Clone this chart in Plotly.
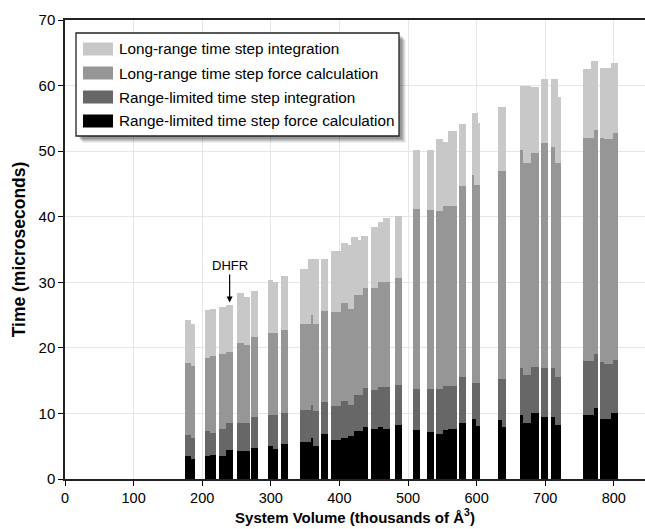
import plotly.graph_objects as go

# ---- data ----
volume = [179.6, 187.1, 207.7, 216.2, 230.1, 240.3, 256.3, 265.3, 275.8, 299.4,
          306.8, 319.5, 348.5, 356.0, 359.6, 365.6, 378.8, 394.8, 407.0, 414.8,
          419.6, 424.4, 429.3, 433.0, 437.8, 451.2, 459.7, 468.2, 486.2, 511.9,
          532.8, 545.9, 554.4, 564.9, 579.4, 594.5, 597.75, 600.6, 603.35, 634.0,
          640.1, 665.0, 673.5, 685.2, 699.5, 710.9, 716.2, 720.9, 760.9, 768.9,
          773.8, 782.8, 791.3, 797.4, 802.2]
bin_width = [8.8, 6.2, 8.6, 8.4, 9.8, 10.6, 10.7, 7.3, 10.7, 7.2,
             7.5, 10.7, 11.1, 4.0, 3.2, 8.8, 10.6, 13.6, 10.7, 4.9,
             4.8, 4.8, 5.0, 2.3, 7.3, 9.6, 7.3, 9.8, 9.7, 9.8,
             9.6, 9.6, 7.3, 13.7, 10.8, 3.0, 3.5, 2.2, 3.3, 6.0,
             6.2, 4.9, 12.2, 11.1, 10.6, 6.3, 4.4, 4.9, 12.2, 3.8,
             5.9, 7.2, 9.8, 2.3, 7.3]
rl_force = [3.5, 3.0, 3.5, 3.7, 3.5, 4.4, 4.2, 4.3, 4.8, 5.0,
            4.6, 5.3, 5.6, 5.6, 6.3, 5.0, 6.9, 5.9, 6.3, 6.5,
            6.5, 7.3, 7.3, 7.3, 8.0, 7.7, 8.0, 7.7, 8.3, 7.4,
            7.1, 6.8, 7.4, 7.6, 8.6, 9.1, 9.1, 8.1, 8.1, 9.0,
            7.9, 9.7, 8.5, 10.0, 9.4, 9.5, 8.3, 8.3, 9.7, 9.7,
            10.8, 9.2, 9.2, 10.0, 10.0]
rl_integ = [3.2, 3.3, 3.8, 3.3, 4.2, 4.1, 4.3, 4.2, 4.7, 4.8,
            5.2, 4.7, 4.9, 4.9, 5.0, 5.4, 4.9, 5.3, 5.6, 4.8,
            4.8, 5.5, 5.5, 5.5, 5.9, 5.8, 6.0, 6.3, 6.0, 6.4,
            6.6, 7.0, 6.8, 6.6, 6.9, 5.6, 5.6, 6.6, 6.6, 6.3,
            7.4, 7.2, 7.3, 7.1, 7.6, 7.4, 7.3, 7.3, 8.3, 8.3,
            8.2, 8.7, 8.4, 7.6, 8.1]
lr_force = [11.0, 11.0, 11.2, 11.7, 11.4, 10.8, 12.2, 11.9, 12.1, 12.5,
            12.5, 12.8, 13.2, 13.2, 13.7, 13.2, 13.8, 14.3, 15.0, 14.7,
            14.7, 15.2, 15.2, 15.2, 15.2, 15.6, 16.1, 16.1, 16.4, 27.4,
            27.3, 27.0, 27.4, 27.4, 29.2, 31.6, 30.1, 30.1, 30.1, 31.6,
            31.6, 33.3, 32.4, 32.6, 34.2, 33.8, 32.6, 32.6, 34.0, 34.0,
            34.2, 34.1, 34.2, 34.2, 34.6]
lr_integ = [6.6, 6.4, 7.2, 7.2, 7.2, 7.2, 7.6, 7.4, 7.1, 8.1,
            7.8, 8.1, 8.4, 9.9, 8.6, 9.9, 7.9, 9.2, 9.1, 9.7,
            10.9, 8.9, 8.4, 9.1, 8.0, 9.4, 9.1, 9.7, 9.4, 8.9,
            9.1, 11.1, 9.8, 11.5, 9.4, 9.5, 11.0, 11.0, 9.5, 9.9,
            9.9, 9.8, 11.7, 10.1, 9.8, 10.3, 12.8, 10.1, 10.5, 11.8,
            10.6, 10.7, 10.9, 11.7, 10.8]

series_names = ["Long-range time step integration",
                "Long-range time step force calculation",
                "Range-limited time step integration",
                "Range-limited time step force calculation"]
x_ticks = [0, 100, 200, 300, 400, 500, 600, 700, 800]
y_ticks = [0, 10, 20, 30, 40, 50, 60, 70]

# ---- styles ----
FONT = "Liberation Sans, Arial, Helvetica, sans-serif"
colors = {"lri": "#c8c8c8", "lrf": "#969696", "rli": "#676767", "rlf": "#000000"}

W, H = 645, 529
ML, MR, MT, MB = 65, 0, 20, 50
PW, PH = W - ML - MR, H - MT - MB
X_MAX = PW / 0.686


def px(xp):
    return (xp - ML) / PW


def py(yp):
    return (H - MB - yp) / PH


fig = go.Figure()
stack = [(rl_force, series_names[3], colors["rlf"]),
         (rl_integ, series_names[2], colors["rli"]),
         (lr_force, series_names[1], colors["lrf"]),
         (lr_integ, series_names[0], colors["lri"])]
for vals, name, col in stack:
    fig.add_trace(go.Bar(x=volume, y=vals, width=bin_width, name=name,
                         marker=dict(color=col, line=dict(width=0)),
                         showlegend=False))

# ---- manual legend with drop shadow ----
lx0, lx1, ly0, ly1 = 76, 399, 33, 136
shapes = []
for off, op in [(7, 0.06), (6, 0.08), (5, 0.10), (4, 0.12), (3, 0.12)]:
    shapes.append(dict(type="rect", xref="paper", yref="paper",
                       x0=px(lx0 + off), x1=px(lx1 + off),
                       y0=py(ly1 + off), y1=py(ly0 + off),
                       fillcolor=f"rgba(0,0,0,{op})", line=dict(width=0),
                       layer="above"))
shapes.append(dict(type="rect", xref="paper", yref="paper",
                   x0=px(lx0), x1=px(lx1), y0=py(ly1), y1=py(ly0),
                   fillcolor="white", line=dict(color="#222222", width=1.3),
                   layer="above"))
rows_y = [49, 73, 97, 121]
leg_cols = [colors["lri"], colors["lrf"], colors["rli"], colors["rlf"]]
annotations = []
for name, col, ry in zip(series_names, leg_cols, rows_y):
    shapes.append(dict(type="rect", xref="paper", yref="paper",
                       x0=px(83), x1=px(113), y0=py(ry + 6.5), y1=py(ry - 6.5),
                       fillcolor=col, line=dict(width=0), layer="above"))
    annotations.append(dict(xref="paper", yref="paper", x=px(117), y=py(ry),
                            text=name, showarrow=False, xanchor="left",
                            yanchor="middle",
                            font=dict(family=FONT, size=15.3, color="black")))

# DHFR callout
annotations.append(dict(x=240, y=26.9, xref="x", yref="y", text="DHFR",
                        showarrow=True, ax=0, ay=-37, arrowhead=2,
                        arrowsize=1, arrowwidth=1.2, arrowcolor="black",
                        font=dict(family=FONT, size=13, color="black")))

fig.update_layout(
    width=W, height=H, barmode="stack",
    margin=dict(l=ML, r=MR, t=MT, b=MB),
    paper_bgcolor="white", plot_bgcolor="white",
    font=dict(family=FONT, size=14, color="black"),
    shapes=shapes, annotations=annotations,
    xaxis=dict(range=[0, X_MAX], tickvals=x_ticks, ticks="outside",
               ticklen=5, tickcolor="black", showline=True,
               linecolor="#222222", linewidth=1.5, mirror=True,
               showgrid=True, gridcolor="#e6e6e6", gridwidth=1,
               zeroline=False, tickfont=dict(size=14.5),
               title=dict(text="<b>System Volume (thousands of Å<sup>3</sup>)</b>",
                          font=dict(size=15), standoff=7)),
    yaxis=dict(range=[0, 70], tickvals=y_ticks, ticks="outside",
               ticklen=5, tickcolor="black", showline=True,
               linecolor="#222222", linewidth=1.5,
               showgrid=True, gridcolor="#e6e6e6", gridwidth=1,
               zeroline=False, tickfont=dict(size=15),
               title=dict(text="<b>Time (microseconds)</b>",
                          font=dict(size=17.5), standoff=8)),
)

fig.write_html("out.html", config={"displayModeBar": False},
               post_script="document.body.style.margin='0';"
                           "document.body.style.padding='0';")
